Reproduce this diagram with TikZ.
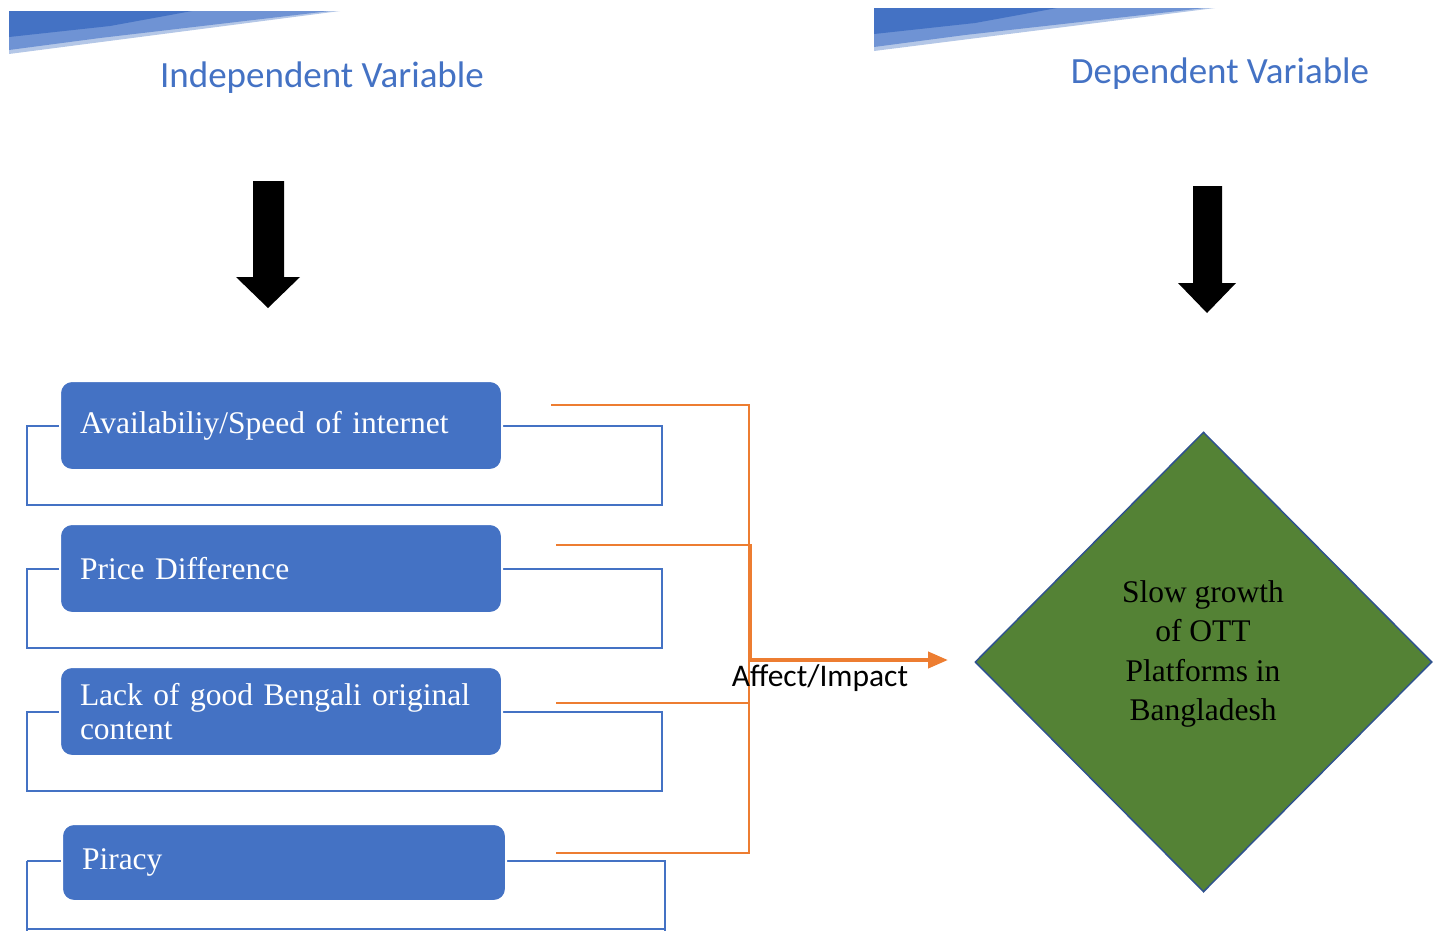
\documentclass[tikz,border=0pt]{standalone}
\usepackage{fontspec}
\setmainfont{Liberation Serif}
\newfontfamily\calibrifont{Carlito}
\usetikzlibrary{arrows.meta,shapes.geometric}
\definecolor{bblue}{HTML}{4472C4}
\definecolor{mblue}{HTML}{6F93D4}
\definecolor{lblue}{HTML}{B4C7E7}
\definecolor{ora}{HTML}{ED7D31}
\definecolor{dgreen}{HTML}{548235}
\definecolor{dborder}{HTML}{2F528F}
\tikzset{
  varbox/.style={draw=white, line width=2pt, fill=bblue, rounded corners=12pt,
    minimum width=442pt, minimum height=89pt, text width=402pt, align=left,
    inner xsep=20pt, text=white, font=\fontsize{31.5}{34}\selectfont},
  frame/.style={draw=bblue, line width=2pt},
  oline/.style={draw=ora, line width=2pt},
  head/.style={text=bblue, font=\calibrifont\fontsize{37}{40}\selectfont, inner sep=0pt},
}
\begin{document}
\begin{tikzpicture}[x=1pt,y=-1pt]
\useasboundingbox (0,0) rectangle (1437,930);
% decorative wedges
\fill[lblue] (9,11) -- (340,11) -- (9,54) -- cycle;
\fill[mblue] (9,11) -- (330,11) -- (100,38) -- (9,50) -- cycle;
\fill[bblue] (9,11) -- (192,11) -- (110,26) -- (9,37) -- cycle;
\begin{scope}[shift={(865,-3)}]
\fill[lblue] (9,11) -- (350,11) -- (9,54) -- cycle;
\fill[mblue] (9,11) -- (340,11) -- (100,38) -- (9,50) -- cycle;
\fill[bblue] (9,11) -- (192,11) -- (110,26) -- (9,37) -- cycle;
\end{scope}
% headers
\node[head, anchor=base] (hind) at (322,87) {Independent Variable};
\node[head, anchor=base] (hdep) at (1220,83) {Dependent Variable};
% black arrows
\fill[black] (253,181) -- (284,181) -- (284,277) -- (300,277) -- (268,308) -- (236,277) -- (253,277) -- cycle;
\fill[black] (1193,186) -- (1222,186) -- (1222,283) -- (1236,283) -- (1207,313) -- (1178,283) -- (1193,283) -- cycle;
% frames
\draw[frame] (27,426) rectangle (662,505);
\draw[frame] (27,569) rectangle (662,648);
\draw[frame] (27,712) rectangle (662,791);
\draw[frame] (27,861) -- (665,861) -- (665,935);
\draw[frame] (27,935) -- (27,861);
\draw[frame] (27,929) -- (665,929);
% boxes
\node[varbox] (b1) at (281,425.5) {\raisebox{-3pt}{Availabiliy/Speed of internet}};
\node[varbox] (b2) at (281,568.5) {\raisebox{-3pt}{Price Difference}};
\node[varbox] (b3) at (281,711.5) {Lack of good Bengali original content};
\node[varbox, minimum width=444pt, minimum height=77pt, text width=404pt] (b4) at (284,862.5) {\raisebox{-3pt}{Piracy}};
% diamond
\node[diamond, draw=dborder, line width=1.5pt, fill=dgreen, minimum width=457pt, minimum height=460pt, inner sep=0pt] (dv) at (1203.5,662) {};
\node[align=center, font=\fontsize{31.5}{39.5}\selectfont, text=black] (dvt) at (1203,654) {Slow growth\\of OTT\\Platforms in\\Bangladesh};
% orange connectors
\coordinate (o1) at (551,405);
\coordinate (o2) at (556,545);
\coordinate (o3) at (556,703);
\coordinate (o4) at (556,853);
\coordinate (j1) at (749,405);
\coordinate (j4) at (749,853);
\coordinate (j2) at (751,545);
\coordinate (j3) at (749,703);
\coordinate (as) at (749,660);
\coordinate (ae) at (948,660);
\draw[oline] (o1) -- (j1) -- (j4) -- (o4);
\draw[oline] (o2) -- (j2) -- (j2 |- as);
\draw[oline] (o3) -- (j3);
\draw[draw=ora, line width=4pt, -{Triangle[length=20pt,width=16pt]}] (as) -- (ae);
\node[font=\calibrifont\fontsize{31.5}{34}\selectfont, text=black, anchor=base] (lbl) at (820,686) {Affect/Impact};
\end{tikzpicture}
\end{document}
